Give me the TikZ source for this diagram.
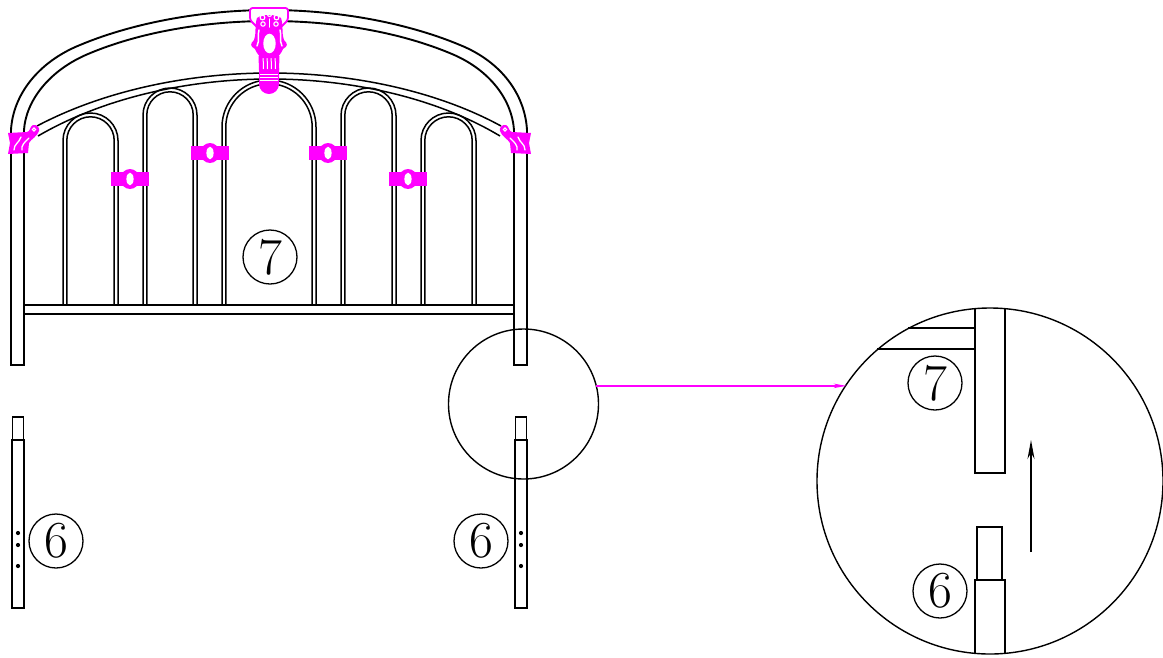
\documentclass[tikz,border=0pt]{standalone}
\usetikzlibrary{arrows.meta}
\definecolor{mag}{RGB}{255,0,255}
\tikzset{
  ln/.style={line width=1.9pt,black},
  thin ln/.style={line width=1.5pt,black},
  num/.style={circle,draw=black,line width=1.3pt,minimum size=54pt,inner sep=0pt,outer sep=0pt,font=\fontsize{52}{52}\selectfont},
  lens/.style={circle,draw=black,line width=1.4pt,inner sep=0pt,outer sep=0pt},
  streak/.style={white,line width=1.5pt,line cap=round},
}
\newcommand{\archpair}[4]{% left, right, top, bottom
  \draw[thin ln] (#1,#4) -- (#1,{#3+(#2-#1)/2}) arc[start angle=180,end angle=360,radius={(#2-#1)/2}] -- (#2,#4);
  \draw[thin ln] ({#1+3.8},#4) -- ({#1+3.8},{#3+(#2-#1)/2}) arc[start angle=180,end angle=360,radius={(#2-#1)/2-3.8}] -- ({#2-3.8},#4);
}
\newcommand{\clamp}[2]{%
  \fill[mag] (#1-19,#2-7) rectangle (#1+19,#2+7);
  \fill[mag] (#1,#2) ellipse[x radius=9.5,y radius=10];
  \fill[white] (#1,#2) ellipse[x radius=3.6,y radius=6.3];
}
\begin{document}
\begin{tikzpicture}[x=1pt,y=-1pt]
\useasboundingbox (0,0) rectangle (1163,657);
% outer hoop and posts
\draw[ln] (11,365) -- (11,130) .. controls (13,95) and (38,62) .. (80,45) .. controls (135,22) and (205,10) .. (270,10) .. controls (335,10) and (405,22) .. (460,45) .. controls (502,62) and (525,95) .. (527,130) -- (527,365) -- (514,365) -- (514,130) .. controls (512,100) and (490,70) .. (452,54) .. controls (400,32) and (335,21) .. (270,21) .. controls (205,21) and (140,32) .. (88,54) .. controls (50,70) and (26,100) .. (24,130) -- (24,365) -- cycle;
% upper rail of the inner arch
\draw[thin ln] (37,126) .. controls (105,90) and (190,73) .. (270,73) .. controls (350,73) and (435,90) .. (501,126);
\draw[thin ln] (38,136) .. controls (105,97) and (190,79) .. (270,79) .. controls (350,79) and (435,97) .. (500,136);
% bars
\archpair{63}{118}{113}{305}
\archpair{143}{197}{88}{305}
\archpair{222}{316}{80}{305}
\archpair{341}{396}{88}{305}
\archpair{421}{476}{113}{305}
% lower rail
\draw[ln] (24,305) -- (514,305);
\draw[ln] (24,314) -- (514,314);
% lower posts
\draw[ln] (12,440) rectangle (24,608);
\draw[thin ln] (12.5,417) rectangle (23.5,440);
\draw[ln] (515,440) rectangle (527,608);
\draw[thin ln] (515.5,417) rectangle (526.5,440);
\foreach \y in {533,545,566} {
  \fill (18,\y) circle[radius=2.1];
  \fill (521,\y) circle[radius=2.1];
}
% clamps
\clamp{130}{179}
\clamp{210}{153}
\clamp{328}{153}
\clamp{408}{179}
% finial
\draw[mag,line width=1.8pt,fill=white,rounded corners=2.5pt] (250,8) -- (288,8) -- (288,20) -- (280,28) -- (258,28) -- (250,20) -- cycle;
\fill[mag] (259,68) -- (279,68) -- (279,84) arc[start angle=0,end angle=180,radius=10] -- cycle;
\fill[mag] (258.5,56) -- (279.5,56) -- (279,70) -- (259,70) -- cycle;
\foreach \x in {263.5,267.5,271.5,275.5} \draw[white,line width=1pt] (\x-.4,57) -- (\x,69);
\foreach \y in {74,77,80} \draw[white,line width=.25pt] (260,\y) -- (278,\y);
\fill[mag] (257,18) .. controls (254,28) and (257,30) .. (254,40) .. controls (250,44) and (250,46) .. (255,49) .. controls (257,54) and (259,55) .. (261,58) -- (277,58) .. controls (279,55) and (281,54) .. (283,49) .. controls (288,46) and (288,44) .. (284,40) .. controls (281,30) and (284,28) .. (281,18) .. controls (276,14) and (262,14) .. (257,18) -- cycle;
\fill[white] (269.5,43.5) ellipse[x radius=6.2,y radius=9.8];
\draw[white,line width=1.1pt] (262.5,17.5) circle[radius=2.4] (276.5,17.5) circle[radius=2.4] (269.5,14.5) circle[radius=2];
\draw[white,line width=1.1pt] (263,24) circle[radius=2.2] (276,24) circle[radius=2.2];
\draw[streak] (269.5,19) -- (269.5,27);
\draw[streak] (259,30) .. controls (257,36) and (260,40) .. (257,46);
\draw[streak] (280,30) .. controls (282,36) and (279,40) .. (282,46);
% corner brackets
\fill[mag] (8,133) -- (27,132) .. controls (30,132) and (30,126) .. (33,125) .. controls (37,124) and (40,128) .. (39,131) .. controls (37,137) and (31,139) .. (29,143) -- (28,153) -- (8,154) -- (10,143) -- cycle;
\draw[streak,line width=1.3pt] (14,150) .. controls (14,144) and (19,143) .. (21,137);
\draw[streak,line width=1.3pt] (22,150) .. controls (21,145) and (25,142) .. (29,138);
\draw[white,line width=1pt] (34,129.5) circle[radius=1.6];
\fill[mag] (531,133) -- (512,132) .. controls (509,132) and (509,126) .. (506,125) .. controls (502,124) and (499,128) .. (500,131) .. controls (502,137) and (508,139) .. (510,143) -- (511,153) -- (531,154) -- (529,143) -- cycle;
\draw[streak,line width=1.3pt] (525,150) .. controls (525,144) and (520,143) .. (518,137);
\draw[streak,line width=1.3pt] (517,150) .. controls (518,145) and (514,142) .. (510,138);
\draw[white,line width=1pt] (505,129.5) circle[radius=1.6];
% magnifier contents
\draw[thin ln] (975,308) -- (975,473) -- (1005,473) -- (1005,308);
\coordinate (railA) at (975,328);
\coordinate (railB) at (975,349);
\draw[thin ln] (railA) -- (908,328);
\draw[thin ln] (railB) -- (877,349);
\draw[thin ln] (977,580) -- (977,527) -- (1002,527) -- (1002,580);
\draw[thin ln] (975,654) -- (975,580) -- (1005,580) -- (1005,654);
\coordinate (arrTail) at (1031,552);
\coordinate (arrHead) at (1031,440);
\draw[black,line width=1.3pt,-{Stealth[length=19pt,width=7pt]}] (arrTail) -- (arrHead);
% lens circles
\node[lens,minimum size=150pt] (small) at (523.5,404) {};
\node[lens,minimum size=346pt] (large) at (990,481) {};
\draw[mag,line width=1.3pt,-{Stealth[length=13pt,width=4.5pt]}] (small.14.7) -- (large.146.3 |- small.14.7);
% labels
\node[num] (n7a) at (270,257) {7};
\node[num] (n6a) at (56,541) {6};
\node[num] (n6b) at (481,541) {6};
\node[num] (n7b) at (935,383) {7};
\node[num] (n6c) at (940,591) {6};
\end{tikzpicture}
\end{document}
